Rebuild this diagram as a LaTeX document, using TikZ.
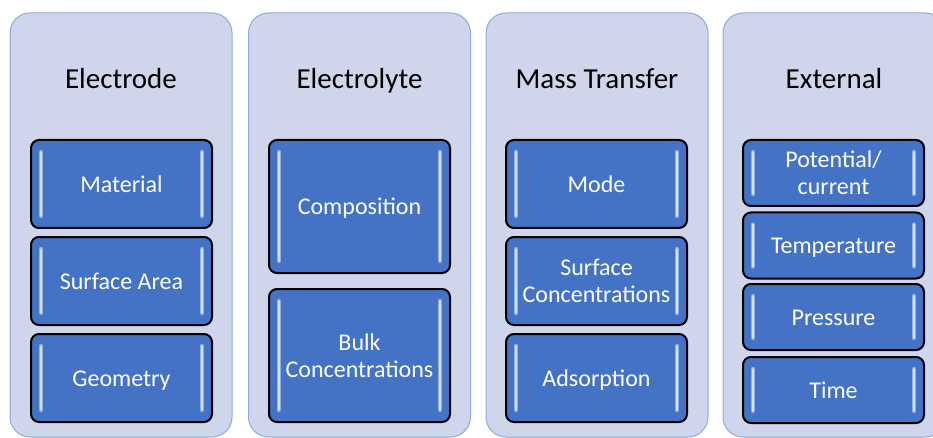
\documentclass[tikz,border=0pt]{standalone}
\usepackage{fontspec}
\setmainfont{Carlito}
\definecolor{panelfill}{HTML}{CFD5EA}
\definecolor{paneledge}{HTML}{8FAADC}
\definecolor{boxblue}{HTML}{4472C4}
\definecolor{hilite}{HTML}{8DAEE8}
\definecolor{hilitecore}{HTML}{D2E2FB}
\tikzset{
  panel/.style={draw=paneledge, line width=1pt, fill=panelfill, rounded corners=20pt,
    minimum width=222pt, minimum height=424pt, inner sep=0pt},
  title/.style={font=\fontsize{29}{34}\selectfont, text=black, text height=20.6pt, text depth=0pt},
  factor/.style={draw=black, line width=2pt, fill=boxblue, rounded corners=8pt,
    text=white, align=center, inner sep=0pt, minimum width=181pt,
    font=\fontsize{24}{27}\selectfont,
    path picture={
      \foreach \w/\c in {4.5pt/hilite, 1.5pt/hilitecore} {
        \draw[\c, line width=\w, line cap=round]
          ([xshift=10pt,yshift=-12pt]path picture bounding box.north west) --
          ([xshift=10pt,yshift=12pt]path picture bounding box.south west);
        \draw[\c, line width=\w, line cap=round]
          ([xshift=-10pt,yshift=-12pt]path picture bounding box.north east) --
          ([xshift=-10pt,yshift=12pt]path picture bounding box.south east);
      }
    }},
  oneline/.style={text height=16.8pt, text depth=0pt},
}
\begin{document}
\begin{tikzpicture}[x=1pt, y=-1pt]
    \useasboundingbox (0,0) rectangle (933,438);
    \clip (0,0) rectangle (933,438);

    % columns
    \node[panel] (electrode) at (121,225) {};
    \node[panel] (electrolyte) at (359.5,225) {};
    \node[panel] (masstransfer) at (597,225) {};
    \node[panel] (external) at (834,225) {};

    \node[title] (t-electrode) at (121,78) {Electrode};
    \node[title] (t-electrolyte) at (359.5,78) {Electrolyte};
    \node[title] (t-masstransfer) at (597,78) {Mass Transfer};
    \node[title] (t-external) at (834,78) {External};

    % electrode
    \node[factor, oneline, minimum height=88pt] (material) at (121.5,184) {Material};
    \node[factor, oneline, minimum height=88pt] (area) at (121.5,281) {Surface Area};
    \node[factor, oneline, minimum height=88pt] (geometry) at (121.5,378) {Geometry};

    % electrolyte
    \node[factor, oneline, minimum height=133pt] (composition) at (359.5,206.5) {Composition};
    \node[factor, minimum height=133pt] (bulk) at (359.5,355.5) {Bulk\\Concentrations};

    % mass transfer
    \node[factor, oneline, minimum height=88pt] (mode) at (596.5,184) {Mode};
    \node[factor, minimum height=88pt] (surfconc) at (596.5,281) {Surface\\Concentrations};
    \node[factor, oneline, minimum height=88pt] (adsorption) at (596.5,378) {Adsorption};

    % external
    \node[factor, minimum height=66pt] (potential) at (833.5,173) {Potential/\\current};
    \node[factor, oneline, minimum height=66pt] (temperature) at (833.5,245.5) {Temperature};
    \node[factor, oneline, minimum height=66pt] (pressure) at (833.5,317) {Pressure};
    \node[factor, oneline, minimum height=66pt] (time) at (833.5,390) {Time};

\end{tikzpicture}
\end{document}
